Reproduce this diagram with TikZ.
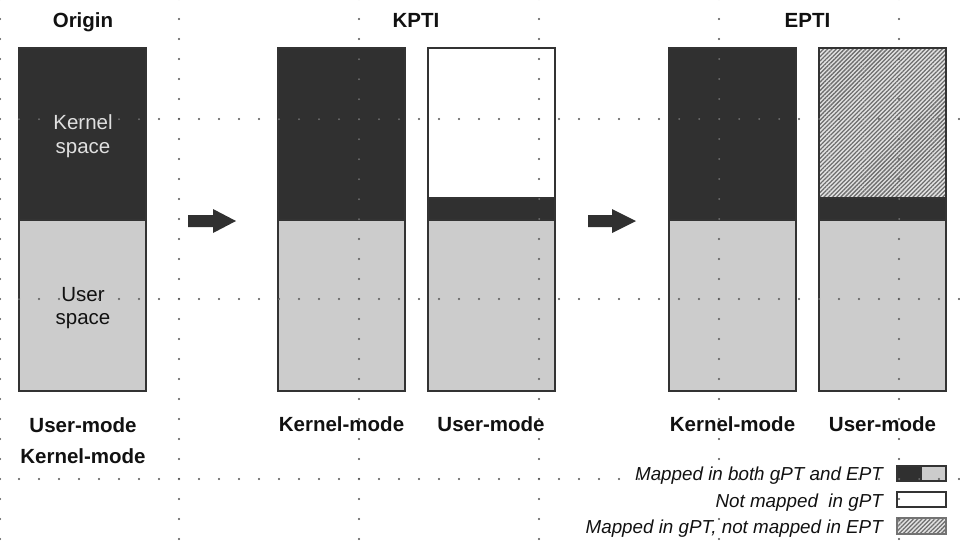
\documentclass[tikz,border=0pt]{standalone}
\usepackage{fontspec}
\setmainfont{Liberation Sans}
\usetikzlibrary{patterns.meta}
\definecolor{dk}{HTML}{303030}
\definecolor{lt}{HTML}{CCCCCC}
\definecolor{edgec}{HTML}{333333}
\definecolor{hatchbg}{HTML}{E2E2E2}
\definecolor{hatchfg}{HTML}{6E6E6E}
\definecolor{txt}{HTML}{111111}
\tikzset{
  seg/.style={draw=edgec, line width=1.1pt, inner sep=0pt, outer sep=0pt, anchor=north west, minimum width=127pt},
  darkseg/.style={seg, fill=dk},
  lightseg/.style={seg, fill=lt},
  whiteseg/.style={seg, fill=white},
  hatchseg/.style={seg, preaction={fill=hatchbg}, pattern={Lines[angle=45,distance=3pt,line width=1.3pt]}, pattern color=hatchfg},
  title/.style={font=\fontsize{20.5}{24}\selectfont\bfseries, text=txt, anchor=base, inner sep=0pt},
  modelabel/.style={font=\fontsize{20.5}{24}\selectfont\bfseries, text=txt, anchor=base, inner sep=0pt},
  boxtext/.style={font=\fontsize{20.5}{24}\selectfont, anchor=base, inner sep=0pt},
  legtext/.style={font=\fontsize{18.8}{22}\selectfont\itshape, text=txt, anchor=base east, inner sep=0pt},
  blockarrow/.style={fill=dk, draw=none},
  griddot/.style={draw=black, fill=white, line width=0.3pt}
}
\begin{document}
\begin{tikzpicture}[x=1pt, y=-1pt]
\useasboundingbox (0,0) rectangle (960,550);
% ---- Origin ----
\node[darkseg, minimum height=172pt] (ok) at (19,48) {};
\node[lightseg, minimum height=171pt] (ou) at (19,220) {};
\node[boxtext, text=white!88!black] (okt1) at (83,129.5) {Kernel};
\node[boxtext, text=white!88!black] (okt2) at (83,153) {space};
\node[boxtext, text=txt] (out1) at (83,301) {User};
\node[boxtext, text=txt] (out2) at (83,324) {space};
% ---- KPTI ----
\node[darkseg, minimum height=172pt] (kk) at (278,48) {};
\node[lightseg, minimum height=171pt] (ku) at (278,220) {};
\node[whiteseg, minimum height=150pt] (uw) at (428,48) {};
\node[darkseg, minimum height=22pt] (ud) at (428,198) {};
\node[lightseg, minimum height=171pt] (ul) at (428,220) {};
% ---- EPTI ----
\node[darkseg, minimum height=172pt] (ek) at (669,48) {};
\node[lightseg, minimum height=171pt] (eku) at (669,220) {};
\node[hatchseg, minimum height=150pt] (eh) at (819,48) {};
\node[darkseg, minimum height=22pt] (ed) at (819,198) {};
\node[lightseg, minimum height=171pt] (el) at (819,220) {};
% ---- arrows ----
\fill[blockarrow] (188,215) -- (213,215) -- (213,209) -- (236,221) -- (213,233) -- (213,227) -- (188,227) -- cycle;
\fill[blockarrow] (588,215) -- (612,215) -- (612,209) -- (636,221) -- (612,233) -- (612,227) -- (588,227) -- cycle;
% ---- titles ----
\node[title] (t1) at (83,27.5) {Origin};
\node[title] (t2) at (416,27.5) {KPTI};
\node[title] (t3) at (807.5,27.5) {EPTI};
% ---- mode labels ----
\node[modelabel] (m1) at (83,432) {User-mode};
\node[modelabel] (m2) at (83,463) {Kernel-mode};
\node[modelabel] (m3) at (341.5,431) {Kernel-mode};
\node[modelabel] (m4) at (491,431) {User-mode};
\node[modelabel] (m5) at (732.5,431) {Kernel-mode};
\node[modelabel] (m6) at (882.5,431) {User-mode};
% ---- legend ----
\node[legtext] (l1) at (883,480) {Mapped in both gPT and EPT};
\node[legtext] (l2) at (883,507) {Not mapped\ \ in gPT};
\node[legtext] (l3) at (883,533) {Mapped in gPT, not mapped in EPT};
\node[seg, fill=dk, minimum width=24pt, minimum height=15pt] (s1a) at (897,466) {};
\node[seg, fill=lt, minimum width=25pt, minimum height=15pt] (s1b) at (921,466) {};
\node[seg, fill=white, minimum width=49pt, minimum height=15pt] (s2) at (897,492) {};
\node[hatchseg, draw=black!55, minimum width=49pt, minimum height=16pt] (s3) at (897,518) {};
% ---- dotted guide grid ----
\foreach \gx in {0,179,359,539,719,899} {
  \foreach \gy in {-1,19,...,559} {
    \path[griddot] (\gx-1,\gy) -- (\gx,\gy-1) -- (\gx+1,\gy) -- (\gx,\gy+1) -- cycle;
  }
}
\foreach \gy in {119,299,479} {
  \foreach \gx in {19,39,...,959} {
    \path[griddot] (\gx-1,\gy) -- (\gx,\gy-1) -- (\gx+1,\gy) -- (\gx,\gy+1) -- cycle;
  }
}
\end{tikzpicture}
\end{document}
